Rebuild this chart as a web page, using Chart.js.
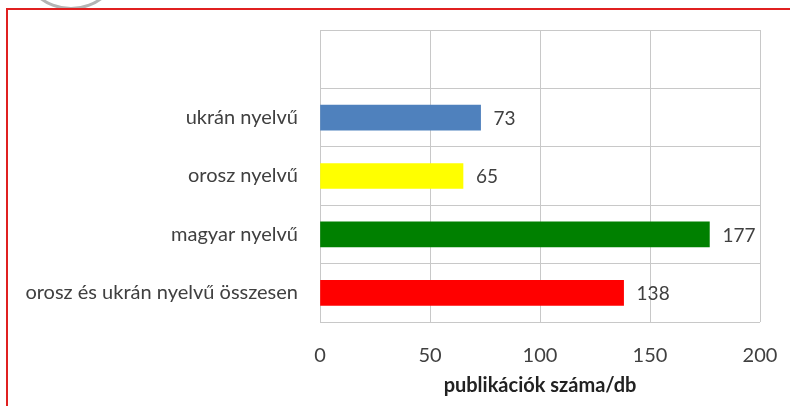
<!DOCTYPE html>
<html>
<head>
<meta charset="utf-8">
<script src="https://cdn.jsdelivr.net/npm/chart.js@4"></script>
<style>
  html, body { margin: 0; padding: 0; background: #fff; }
  #wrap { position: relative; width: 790px; height: 406px; overflow: hidden; }
  #frame { position: absolute; left: 6px; top: 8px; width: 800px; height: 420px;
           border-left: 2px solid #e02020; border-top: 2px solid #e02020; }
  #logo { position: absolute; left: 22px; top: -80px; width: 92px; height: 84px;
          border-radius: 50%; border: 3px solid #b4b4b4; }
  canvas { position: absolute; left: 0; top: 0; }
</style>
</head>
<body>
<div id="wrap">
  <div id="logo"></div>
  <div id="frame"></div>
  <canvas id="my-chart" width="790" height="406"></canvas>
</div>
<script>
const categories = ['ukrán nyelvű', 'orosz nyelvű', 'magyar nyelvű', 'orosz és ukrán nyelvű összesen'];
const counts = [73, 65, 177, 138];
const barColors = ['#4f81bd', '#ffff00', '#008000', '#ff0000'];
const xTicks = [0, 50, 100, 150, 200];
const axisTitle = 'publikációk száma/db';

// empty band on top, like the original
const labels = [''].concat(categories);
const values = [null].concat(counts);
const colors = ['#fff'].concat(barColors);

const valueLabels = {
  id: 'valueLabels',
  afterDatasetsDraw(chart) {
    const ctx = chart.ctx;
    const meta = chart.getDatasetMeta(0);
    ctx.save();
    ctx.font = '19px Lato';
    ctx.fillStyle = '#404040';
    ctx.textBaseline = 'middle';
    meta.data.forEach((bar, i) => {
      if (values[i] == null) return;
      ctx.fillText(String(values[i]), bar.x + 13, bar.y + 1);
    });
    ctx.restore();
  }
};

const ctx = document.getElementById('my-chart').getContext('2d');
const chart = new Chart(ctx, {
  type: 'bar',
  data: {
    labels: labels,
    datasets: [{
      data: values,
      backgroundColor: colors,
      barThickness: 25
    }]
  },
  options: {
    indexAxis: 'y',
    responsive: false,
    animation: false,
    layout: { padding: { top: 30, right: 30, left: 0, bottom: 4 } },
    plugins: { legend: { display: false }, tooltip: { enabled: false } },
    scales: {
      x: {
        min: 0, max: 200,
        afterBuildTicks: axis => { axis.ticks = xTicks.map(v => ({ value: v })); },
        grid: { color: '#c8c8c8', drawTicks: false },
        border: { display: false },
        ticks: { padding: 22, color: '#404040', font: { family: 'Lato', size: 20 } },
        title: { display: true, text: axisTitle, color: '#222',
                 font: { family: 'Lato', size: 20, weight: 'bold' }, padding: { top: 2 } },
        afterFit: s => { s.height = 80; s.paddingLeft = 0; s.paddingRight = 0; }
      },
      y: {
        offset: true,
        grid: { offset: true, color: '#c8c8c8', drawTicks: false },
        border: { color: '#c8c8c8' },
        ticks: { padding: 22, color: '#404040', font: { family: 'Lato', size: 20 } },
        afterFit: s => { s.width = 320; s.paddingTop = 0; s.paddingBottom = 0; }
      }
    }
  },
  plugins: [valueLabels]
});
</script>
</body>
</html>
